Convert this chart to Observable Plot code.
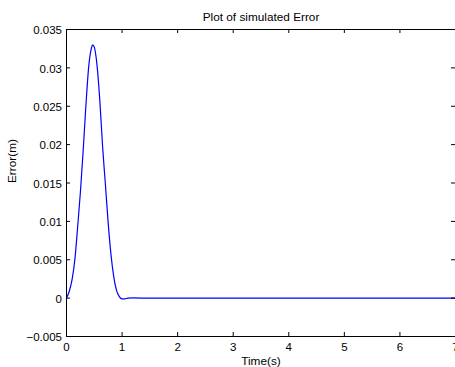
<!DOCTYPE html>
<html>
<head>
<meta charset="utf-8">
<script src="https://cdn.jsdelivr.net/npm/d3@7"></script>
<script src="https://cdn.jsdelivr.net/npm/@observablehq/plot@0.6"></script>
<style>
  html, body { margin: 0; padding: 0; background: #fff; overflow: hidden; }
  #chart svg { display: block; }
</style>
</head>
<body>
<div id="chart"></div>
<script>
// Time (s) and simulated error (m)
const timeValues = [0, 0.05, 0.1, 0.15, 0.2, 0.25, 0.3, 0.35, 0.4, 0.45, 0.47, 0.5, 0.55, 0.6, 0.65, 0.7, 0.75, 0.8, 0.85, 0.9, 0.95, 1.0, 1.05, 1.1, 1.2, 1.5, 2, 2.5, 3, 3.5, 4, 4.5, 5, 5.5, 6, 6.5, 7];
const errorValues = [0, 0.0009, 0.0024, 0.005, 0.0092, 0.0138, 0.0192, 0.0252, 0.0302, 0.0326, 0.0330, 0.0327, 0.0303, 0.0257, 0.0197, 0.0148, 0.0098, 0.0057, 0.0028, 0.0010, 0.0002, -0.0001, -0.0001, 0, 0.00002, 0, 0, 0, 0, 0, 0, 0, 0, 0, 0, 0, 0];

const xTicks = [0, 1, 2, 3, 4, 5, 6, 7];
const xTickLabels = ["0", "1", "2", "3", "4", "5", "6", "7"];
const yTicks = [-0.005, 0, 0.005, 0.01, 0.015, 0.02, 0.025, 0.03, 0.035];
const yTickLabels = ["\u22120.005", "0", "0.005", "0.01", "0.015", "0.02", "0.025", "0.03", "0.035"];

const titleText = ["Plot of simulated Error"];
const xLabelText = ["Time(s)"];
const yLabelText = ["Error(m)"];

const series = timeValues.map((t, i) => ({t, e: errorValues[i]}));

const W = 455, H = 367, mL = 66, mR = 0, mT = 29, mB = 31;
const plotW = W - mL - mR, plotH = H - mT - mB, tick = 4;

const chart = Plot.plot({
  width: W, height: H,
  marginLeft: mL, marginRight: mR, marginTop: mT, marginBottom: mB,
  style: {fontFamily: "'Liberation Sans', Arial, Helvetica, sans-serif", fontSize: "11.5px", color: "#000", background: "#fff"},
  x: {domain: [0, 7], axis: null},
  y: {domain: [-0.005, 0.035], axis: null},
  marks: [
    Plot.line(series, {x: "t", y: "e", stroke: "#0000ff", strokeWidth: 1.2, curve: "monotone-x"}),
    Plot.frame({stroke: "#000", strokeWidth: 1}),
    // inward ticks on all four sides
    Plot.tickX(xTicks, {x: d => d, insetTop: plotH - tick, stroke: "#000"}),
    Plot.tickX(xTicks, {x: d => d, insetBottom: plotH - tick, stroke: "#000"}),
    Plot.tickY(yTicks, {y: d => d, insetRight: plotW - tick, stroke: "#000"}),
    Plot.tickY(yTicks, {y: d => d, insetLeft: plotW - tick, stroke: "#000"}),
    // tick labels
    Plot.text(xTicks, {x: d => d, text: (d, i) => xTickLabels[i], frameAnchor: "bottom", dy: 11.3, lineAnchor: "middle", textAnchor: "middle", fill: "#000"}),
    Plot.text(yTicks, {y: d => d, text: (d, i) => yTickLabels[i], frameAnchor: "left", dx: -4.5, dy: 1, lineAnchor: "middle", textAnchor: "end", fill: "#000"}),
    // title and axis labels
    Plot.text(titleText, {text: d => d, frameAnchor: "top", dy: -12.2, lineAnchor: "middle", fontSize: 11.8, fill: "#000"}),
    Plot.text(xLabelText, {text: d => d, frameAnchor: "bottom", dy: 24.4, lineAnchor: "middle", fontSize: 11.8, fill: "#000"}),
    Plot.text(yLabelText, {text: d => d, frameAnchor: "left", dx: -54, rotate: -90, lineAnchor: "middle", fontSize: 11.8, fill: "#000"})
  ]
});
document.getElementById("chart").appendChild(chart);
</script>
</body>
</html>
